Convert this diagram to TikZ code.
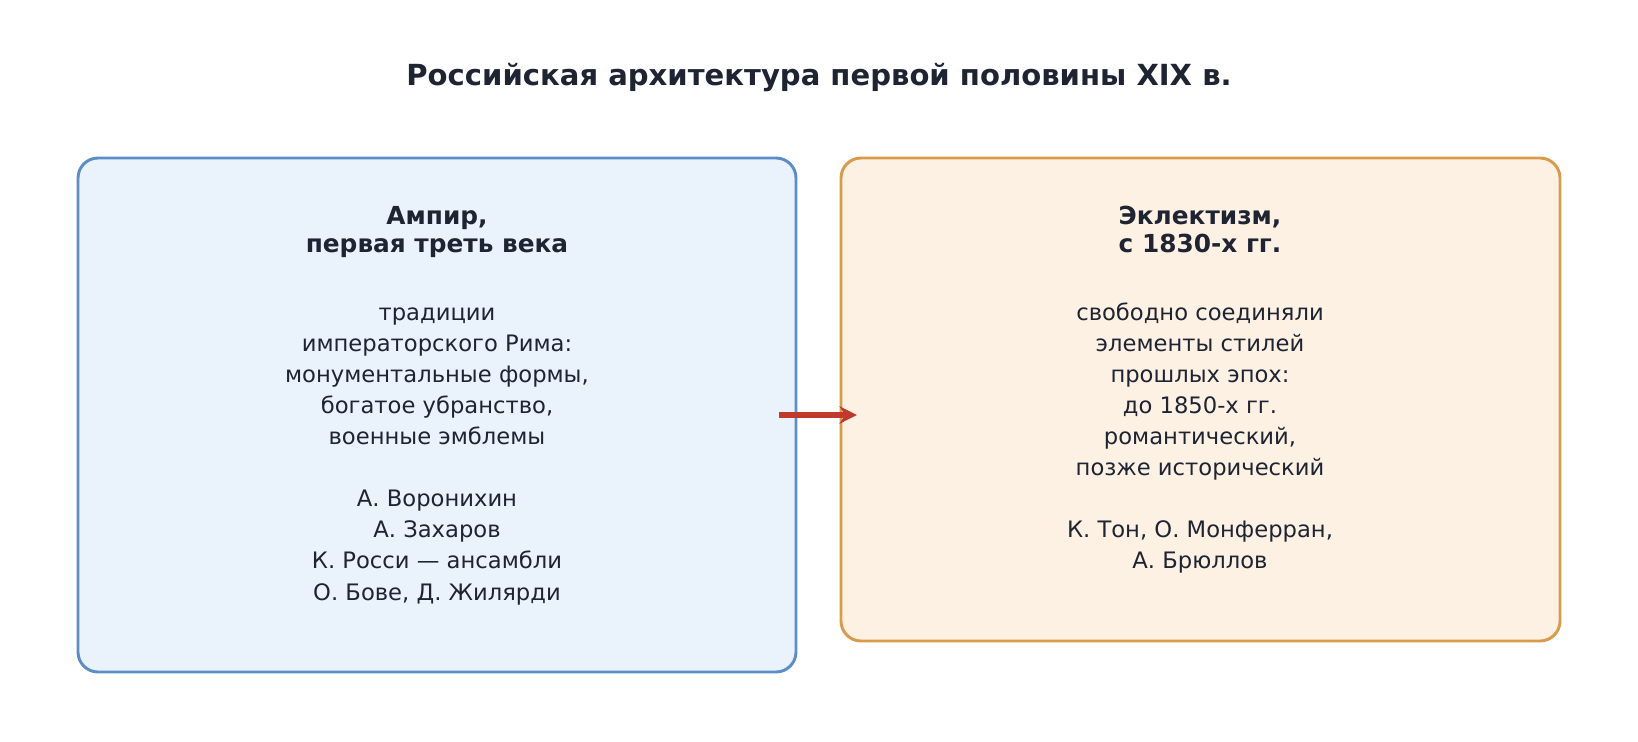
\documentclass[tikz,border=0pt]{standalone}
\usepackage{fontspec}
\setmainfont{DejaVu Sans}
\usetikzlibrary{positioning,arrows.meta}
\definecolor{ink}{HTML}{1F2433}
\definecolor{blueline}{HTML}{5B8DC8}
\definecolor{bluefill}{HTML}{EAF2FC}
\definecolor{orangeline}{HTML}{D99A4A}
\definecolor{orangefill}{HTML}{FDF1E4}
\definecolor{arrowred}{HTML}{C0392B}
\tikzset{
  card/.style={draw, line width=2.2pt, rounded corners=15pt, inner sep=0pt},
  head/.style={text=ink, font=\bfseries\fontsize{18.6}{21}\selectfont, align=center},
  body/.style={text=ink, font=\fontsize{17}{23.3}\selectfont, align=center},
}
\begin{document}
\begin{tikzpicture}[x=0.75pt, y=-0.75pt]
  \useasboundingbox (0,0) rectangle (1638,742);
  \node[text=ink, font=\bfseries\fontsize{21.8}{26}\selectfont] (title) at (819,78) {Российская архитектура первой половины XIX в.};
  % two periods
  \node[card, blueline, fill=bluefill, minimum width=718*0.75pt, minimum height=514*0.75pt] (empire) at (437,415) {};
  \node[card, orangeline, fill=orangefill, minimum width=719*0.75pt, minimum height=483*0.75pt] (eclect) at (1200.5,399.5) {};
  \node[head] (empireH) at (437,232) {Ампир,\\первая треть века};
  \node[head] (eclectH) at (1200,229) {Эклектизм,\\с 1830-х гг.};
  \node[body, anchor=north] (empireB) at (437,303) {традиции\\императорского Рима:\\монументальные формы,\\богатое убранство,\\военные эмблемы\\[23.3pt]А. Воронихин\\А. Захаров\\К. Росси — ансамбли\\О. Бове, Д. Жилярди};
  \node[body, anchor=north] (eclectB) at (1200,298) {свободно соединяли\\элементы стилей\\прошлых эпох:\\до 1850-х гг.\\романтический,\\позже исторический\\[23.3pt]К. Тон, О. Монферран,\\А. Брюллов};
  \draw[-{Stealth[length=13pt,width=13pt]}, arrowred, line width=3.8pt] ([xshift=-13.5pt]empire.east) -- ([xshift=13pt]empire.east -| eclect.west);
\end{tikzpicture}
\end{document}
